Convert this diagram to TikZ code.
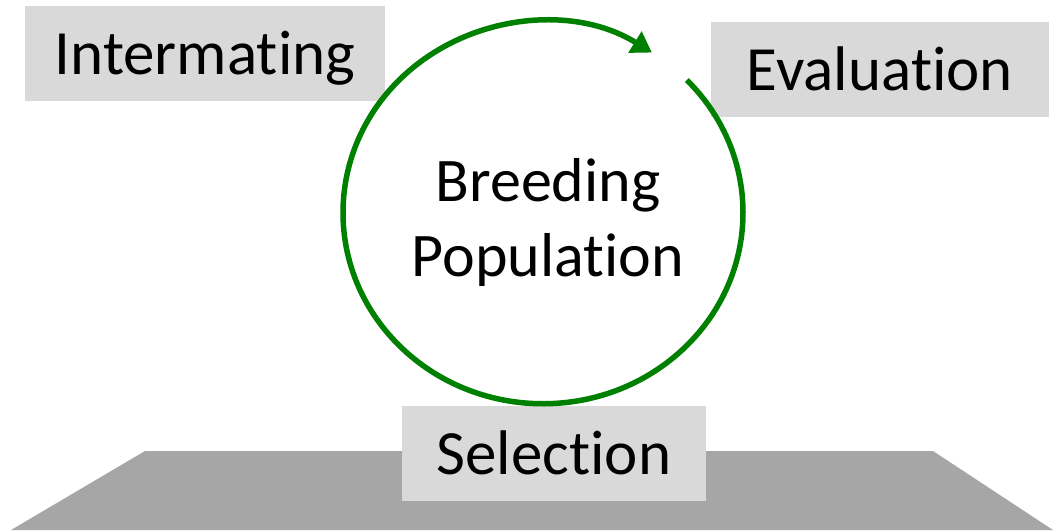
\documentclass[tikz,border=0pt]{standalone}
\usepackage{fontspec}
\setmainfont{Carlito}[Ligatures=NoCommon]
\usepackage{tikz}
\usetikzlibrary{arrows.meta}
\usetikzlibrary{positioning}
\definecolor{boxgray}{HTML}{D9D9D9}
\definecolor{floorgray}{HTML}{A6A6A6}
\definecolor{loopgreen}{HTML}{008000}
\tikzset{
    stage/.style={fill=boxgray, inner sep=0pt, text height=68pt, text depth=27pt,
        font=\fontsize{63}{63}\selectfont},
    floor/.style={fill=floorgray},
    cycle loop/.style={draw=loopgreen, line width=5.5pt, -{Triangle[length=20pt,width=24pt]}},
    pool/.style={align=center, font=\fontsize{62}{75}\selectfont},
}

\begin{document}
\begin{tikzpicture}[x=1pt, y=-1pt]
	\useasboundingbox (0,0) rectangle (1053,531);
	\fill[floor] (11,530) -- (145,451) -- (933,451) -- (1053,530) -- cycle;
	\node[stage, minimum width=360pt] (intermating) at (205,6) [anchor=north] {Intermating};
	\node[stage, minimum width=338pt] (evaluation) at (880,22) [anchor=north] {Evaluation};
	\node[stage, minimum width=304pt] (selection) at (554,406) [anchor=north] {Selection};
	\coordinate (hub) at (543,212.75);
	\draw[cycle loop] (hub) ++(-44:200 and 191)
		arc[start angle=-44, end angle=303, x radius=200, y radius=191];
	\node[pool] (population) at (548,222) {Breeding\\Population};
\end{tikzpicture}
\end{document}
